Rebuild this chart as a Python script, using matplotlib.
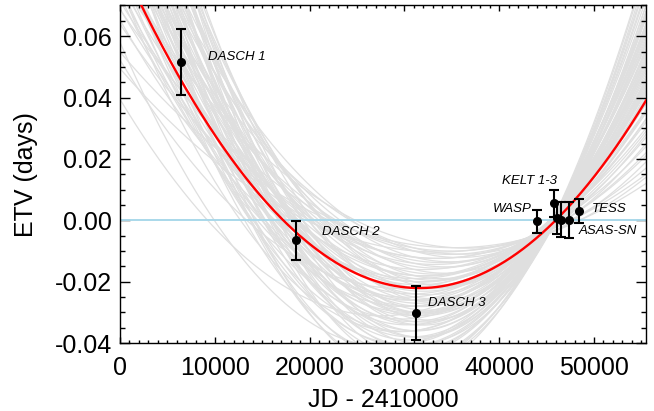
import numpy as np
import matplotlib
matplotlib.use("Agg")
import matplotlib.pyplot as plt
from matplotlib.ticker import MultipleLocator, FormatStrFormatter

plt.rcParams['font.family'] = ['Liberation Sans', 'DejaVu Sans']

# ---- data ----
labels = ["DASCH 1", "DASCH 2", "DASCH 3", "WASP", "KELT 1", "KELT 2", "KELT 3", "ASAS-SN", "TESS"]
jd = [6410, 18590, 31230, 44000, 45760, 46150, 46520, 47340, 48400]
etv = [0.0515, -0.0065, -0.0302, -0.0004, 0.0055, 0.0006, 0.0001, 0.0001, 0.0030]
err = [0.0107, 0.0064, 0.0089, 0.0038, 0.0045, 0.0052, 0.0057, 0.0060, 0.0038]

# text annotations
ann_text = ["DASCH 1", "DASCH 2", "DASCH 3", "KELT 1-3", "WASP", "TESS", "ASAS-SN"]
ann_x = [9290, 21300, 32490, 40300, 39350, 49800, 48400]
ann_y = [0.0533, -0.0038, -0.0271, 0.0128, 0.0036, 0.0038, -0.0035]

# best-fit quadratic ephemeris curve: vertex JD, vertex ETV, curvature
fit_x0 = 31600.0
fit_y0 = -0.0221
fit_curv = 1.07e-10

# posterior sample curves, each given by its ETV at three epochs
grey_epochs = [6000, 31000, 55500]
grey_y6000 = [0.048, 0.055, 0.062, 0.070, 0.078, 0.085, 0.040, 0.044, 0.050, 0.058,
              0.066, 0.074, 0.082, 0.090, 0.038, 0.045, 0.052, 0.060, 0.068, 0.042,
              0.047, 0.053, 0.060, 0.067, 0.075, 0.083, 0.089, 0.036, 0.039, 0.043,
              0.049, 0.056, 0.064, 0.071, 0.079, 0.087, 0.057, 0.063, 0.071, 0.080,
              0.088, 0.046, 0.051, 0.059, 0.065, 0.073, 0.041, 0.054, 0.061, 0.069,
              0.077, 0.086, 0.050, 0.055, 0.062, 0.069, 0.076, 0.084, 0.025, 0.012,
              0.020, 0.030, 0.035, 0.092, 0.095, 0.058, 0.066, 0.047, 0.039, 0.052,
              0.044, 0.072, 0.058, 0.081, 0.035, 0.063, 0.093, 0.097, 0.042, 0.054]
grey_y31000 = [-0.022, -0.026, -0.030, -0.034, -0.038, -0.042, -0.016, -0.012, -0.018, -0.020,
               -0.024, -0.028, -0.030, -0.034, -0.025, -0.030, -0.034, -0.038, -0.044, -0.020,
               -0.014, -0.010, -0.015, -0.019, -0.022, -0.025, -0.029, -0.019, -0.028, -0.036,
               -0.040, -0.046, -0.027, -0.031, -0.036, -0.040, -0.023, -0.017, -0.014, -0.018,
               -0.021, -0.024, -0.028, -0.033, -0.036, -0.041, -0.032, -0.041, -0.009, -0.012,
               -0.016, -0.020, -0.021, -0.018, -0.022, -0.026, -0.030, -0.033, -0.022, -0.030,
               -0.040, -0.010, -0.008, -0.045, -0.038, -0.048, -0.050, -0.044, -0.012, -0.007,
               -0.009, -0.010, -0.013, -0.047, -0.036, -0.039, -0.026, -0.032, -0.026, -0.031]
grey_y55500 = [0.040, 0.049, 0.052, 0.063, 0.066, 0.077, 0.030, 0.024, 0.038, 0.043,
               0.045, 0.057, 0.056, 0.068, 0.044, 0.048, 0.059, 0.061, 0.075, 0.035,
               0.027, 0.022, 0.033, 0.039, 0.050, 0.051, 0.062, 0.032, 0.047, 0.055,
               0.066, 0.070, 0.053, 0.055, 0.068, 0.070, 0.042, 0.036, 0.033, 0.041,
               0.046, 0.045, 0.050, 0.058, 0.060, 0.072, 0.053, 0.064, 0.019, 0.028,
               0.036, 0.044, 0.042, 0.038, 0.043, 0.049, 0.058, 0.064, 0.036, 0.042,
               0.055, 0.015, 0.012, 0.082, 0.074, 0.078, 0.083, 0.066, 0.021, 0.014,
               0.017, 0.025, 0.029, 0.080, 0.052, 0.067, 0.054, 0.062, 0.046, 0.052]

xlim = (0, 55500)
ylim = (-0.040, 0.070)

# ---- figure ----
fig = plt.figure(figsize=(6.54, 4.11), dpi=100)
ax = fig.add_axes([120/654, 1 - 343/411, (646-120)/654, (343-5.5)/411])

xx = np.linspace(xlim[0], xlim[1], 600)
for a, b, c in zip(grey_y6000, grey_y31000, grey_y55500):
    coef = np.polyfit(grey_epochs, [a, b, c], 2)
    ax.plot(xx, np.polyval(coef, xx), color='#dfdfdf', lw=0.9, zorder=1)

ax.axhline(0.0, color='#a9d8ea', lw=1.4, zorder=2)
ax.plot(xx, fit_y0 + fit_curv * (xx - fit_x0) ** 2, color='red', lw=1.7, zorder=3)

ax.errorbar(jd, etv, yerr=err, fmt='o', color='black', ms=5.5, elinewidth=1.5,
            capsize=3.5, capthick=1.5, zorder=4)

for t, x, y in zip(ann_text, ann_x, ann_y):
    ax.text(x, y, t, fontsize=9.5, style='italic', ha='left', va='center', zorder=5)

ax.set_xlim(*xlim)
ax.set_ylim(*ylim)
ax.xaxis.set_major_locator(MultipleLocator(10000))
ax.xaxis.set_minor_locator(MultipleLocator(1000))
ax.yaxis.set_major_locator(MultipleLocator(0.02))
ax.yaxis.set_minor_locator(MultipleLocator(0.005))
ax.yaxis.set_major_formatter(FormatStrFormatter('%.2f'))

ax.tick_params(axis='both', which='both', direction='in', top=True, right=True,
               width=1.0, labelsize=18)
ax.tick_params(axis='x', which='major', length=4.0, pad=9)
ax.tick_params(axis='x', which='minor', length=2.0)
ax.tick_params(axis='y', which='major', length=7.5, pad=6)
ax.tick_params(axis='y', which='minor', length=3.8)
for s in ax.spines.values():
    s.set_linewidth(1.0)

ax.set_xlabel('JD - 2410000', fontsize=18, labelpad=6)
ax.set_ylabel('ETV (days)', fontsize=18, labelpad=12)

fig.savefig('out.png', dpi=100)
